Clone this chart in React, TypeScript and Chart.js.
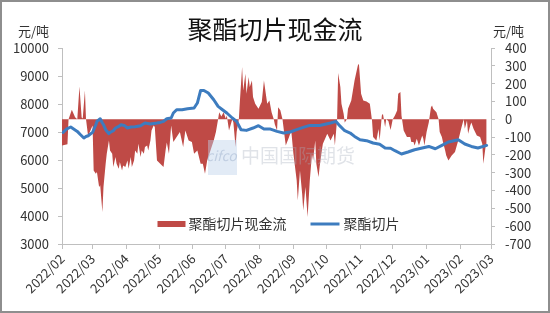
import React, { useEffect, useRef } from 'react';
import { Chart, registerables } from 'chart.js';

Chart.register(...registerables);

// Day offsets are counted from 2022-02-01
const START_DATE = '2022-02-01';
const monthTickDays = [0, 28, 59, 89, 120, 150, 181, 212, 242, 273, 303, 334, 365, 393];
const monthTickLabels = [
  '2022/02', '2022/03', '2022/04', '2022/05', '2022/06', '2022/07', '2022/08',
  '2022/09', '2022/10', '2022/11', '2022/12', '2023/01', '2023/02', '2023/03',
];

const cashFlowDays = [
  0, 5, 6, 9, 12, 14, 16, 18, 19, 21,
  22, 24, 25, 28, 29, 31, 32, 34, 35, 37,
  38, 40, 41, 43, 44, 46, 47, 49, 50, 52,
  53, 55, 56, 58, 60, 61, 63, 64, 66, 67,
  69, 70, 72, 73, 75, 76, 78, 79, 81, 82,
  84, 85, 87, 90, 93, 95, 96, 98, 100, 102,
  105, 108, 111, 113, 116, 119, 121, 124, 127, 129,
  131, 133, 136, 139, 141, 143, 144, 146, 148, 150,
  151, 153, 156, 157, 159, 160, 162, 163, 165, 166,
  168, 169, 171, 172, 174, 175, 177, 180, 183, 185,
  188, 190, 192, 194, 195, 197, 198, 200, 202, 204,
  205, 208, 210, 212, 215, 216, 218, 220, 221, 223,
  225, 227, 229, 230, 232, 233, 235, 236, 238, 239,
  243, 246, 249, 250, 252, 253, 255, 256, 258, 259,
  261, 262, 265, 268, 271, 272, 274, 276, 279, 282,
  284, 285, 288, 290, 291, 293, 294, 296, 297, 299,
  301, 303, 305, 307, 308, 310, 311, 313, 316, 319,
  320, 322, 323, 325, 327, 330, 331, 332, 334, 336,
  338, 339, 340, 343, 345, 346, 348, 349, 351, 352,
  354, 357, 360, 363, 366, 368, 369, 371, 372, 374,
  375, 377, 380, 383, 385, 386, 388, 389,
];
const cashFlowValues = [
  -147, -140, 0, 53, 12, 0, 184, 10, 5, 162,
  0, -100, -78, -35, -287, -306, -296, -380, -370, -520,
  -380, -250, -194, -119, -175, -194, -268, -212, -250, -278,
  -240, -287, -259, -268, -231, -278, -212, -268, -231, -175,
  -194, -137, -212, -175, -194, -156, -147, -175, -119, -63,
  -35, -44, -231, -250, -268, -170, -130, -194, -35, -128,
  -100, -72, -156, -63, -119, -128, -194, -175, -250, -250,
  -306, -231, -175, -119, -72, 0, 40, 15, 40, 5,
  21, -63, 0, -18, -156, -72, 0, 105, 293, 162,
  255, 143, 237, 181, 218, 125, 87, 59, 97, 218,
  87, 105, 40, 0, -30, -63, 68, 50, 0, -100,
  -147, -100, -63, -194, -343, -456, -287, -418, -512, -380,
  -549, -343, -194, -231, -119, -250, -324, -268, -175, -137,
  -81, -119, -81, -147, 0, 260, 181, 87, 31, -18,
  0, 59, 105, 218, 302, 311, 143, 105, 100, 87,
  -7, -100, -119, -55, -119, 21, 31, -44, 0, -10,
  -60, 0, 21, 49, 143, 153, 21, -63, -100, -100,
  -128, -128, -147, -109, -147, -91, -109, -147, -72, -18,
  68, 77, 59, 40, 0, -72, -100, -128, -175, -203,
  -231, -203, -184, -119, -45, 0, -53, -7, -81, -35,
  -18, -53, -91, -100, -137, -250, -156, -150,
];

const priceDays = [
  1, 4, 8, 11, 14, 17, 20, 22, 24, 28,
  31, 32, 35, 37, 38, 40, 43, 44, 47, 49,
  52, 54, 57, 60, 63, 67, 72, 76, 81, 87,
  90, 93, 96, 100, 102, 105, 110, 115, 121, 124,
  127, 130, 134, 139, 143, 147, 151, 156, 160, 164,
  169, 175, 180, 185, 191, 197, 203, 209, 215, 221,
  227, 236, 246, 251, 255, 259, 264, 268, 273, 279,
  285, 291, 296, 301, 305, 311, 317, 323, 330, 336,
  342, 348, 354, 363, 369, 375, 381, 389,
];
const priceValues = [
  6985, 7100, 7178, 7100, 7021, 6900, 6785, 6840, 6867, 6985,
  7260, 7378, 7474, 7321, 7260, 7082, 6940, 6980, 7046, 7142,
  7200, 7260, 7235, 7142, 7178, 7190, 7224, 7321, 7285, 7321,
  7342, 7378, 7474, 7500, 7678, 7796, 7796, 7830, 7857, 8035,
  8485, 8485, 8392, 8153, 7914, 7796, 7678, 7500, 7378, 7082,
  7058, 7142, 7224, 7105, 7105, 7021, 6964, 7000, 7082, 7164,
  7235, 7235, 7321, 7378, 7200, 7046, 6964, 6842, 6725, 6689,
  6607, 6560, 6428, 6420, 6332, 6214, 6285, 6367, 6428, 6485,
  6403, 6521, 6642, 6725, 6571, 6485, 6428, 6521,
];

const TITLE = '聚酯切片现金流';
const UNIT = '元/吨';
const SERIES_CASH = '聚酯切片现金流';
const SERIES_PRICE = '聚酯切片';
const WATERMARK = '中国国际期货';

const FONT = '"Noto Sans CJK SC", "Noto Sans", sans-serif';
const RED = '#BF4A46';
const BLUE = '#3D7CBF';
const AXIS = '#BFBFBF';
const TEXT = '#333333';

const decorPlugin = {
  id: 'decor',
  afterDatasetsDraw(chart: any) {
    const { ctx, chartArea } = chart;
    ctx.save();
    // faint watermark
    ctx.fillStyle = 'rgba(190,210,235,0.45)';
    ctx.fillRect(chartArea.left + 146, chartArea.top + 92, 29, 35);
    ctx.font = 'italic 14px ' + FONT;
    ctx.fillStyle = 'rgba(150,170,200,0.45)';
    ctx.textBaseline = 'middle';
    ctx.textAlign = 'left';
    ctx.fillText('cifco', chartArea.left + 144, chartArea.top + 108);
    ctx.font = '19px ' + FONT;
    ctx.fillStyle = 'rgba(165,175,190,0.35)';
    ctx.fillText(WATERMARK, chartArea.left + 179, chartArea.top + 108);

    // legend inside the plot area
    ctx.font = '14px ' + FONT;
    ctx.fillStyle = TEXT;
    const ds = chart.data.datasets;
    const t1 = ds[0].label;
    const t2 = ds[1].label;
    const w1 = ctx.measureText(t1).width;
    const w2 = ctx.measureText(t2).width;
    const total = 28 + 3 + w1 + 24 + 29 + 4 + w2;
    const cx = (chartArea.left + chartArea.right) / 2 + 2;
    const y = chartArea.bottom - 20;
    let x = cx - total / 2;
    ctx.fillStyle = ds[0].backgroundColor;
    ctx.fillRect(x, y - 3, 28, 6);
    x += 31;
    ctx.fillStyle = TEXT;
    ctx.fillText(t1, x, y);
    x += w1 + 24;
    ctx.strokeStyle = ds[1].borderColor;
    ctx.lineWidth = 3;
    ctx.beginPath();
    ctx.moveTo(x, y);
    ctx.lineTo(x + 29, y);
    ctx.stroke();
    x += 33;
    ctx.fillText(t2, x, y);
    ctx.restore();
  },
  afterDraw(chart: any) {
    const { ctx } = chart;
    ctx.save();
    ctx.font = '13px ' + FONT;
    ctx.fillStyle = TEXT;
    ctx.textBaseline = 'middle';
    ctx.textAlign = 'left';
    ctx.fillText(UNIT, 18, 31);
    ctx.fillText(UNIT, 493, 31);
    ctx.restore();
  },
};

export default function App() {
  const canvasRef = useRef<HTMLCanvasElement | null>(null);

  useEffect(() => {
    const canvas = canvasRef.current;
    if (!canvas) return;
    const cashData = cashFlowDays.map((d, i) => ({ x: d, y: cashFlowValues[i] }));
    const priceData = priceDays.map((d, i) => ({ x: d, y: priceValues[i] }));

    const chart = new Chart(canvas, {
      type: 'line',
      data: {
        datasets: [
          {
            label: SERIES_CASH,
            data: cashData,
            yAxisID: 'y1',
            fill: 'origin',
            backgroundColor: RED,
            borderColor: RED,
            borderWidth: 0,
            pointRadius: 0,
            tension: 0,
            order: 2,
          },
          {
            label: SERIES_PRICE,
            data: priceData,
            yAxisID: 'y',
            fill: false,
            borderColor: BLUE,
            backgroundColor: BLUE,
            borderWidth: 3,
            pointRadius: 0,
            tension: 0,
            borderJoinStyle: 'round',
            borderCapStyle: 'round',
            order: 1,
          },
        ],
      },
      options: {
        animation: false,
        responsive: true,
        maintainAspectRatio: false,
        events: [],
        layout: { padding: { left: 0, right: 0, top: 0, bottom: 0 } },
        plugins: {
          legend: { display: false },
          tooltip: { enabled: false },
          title: {
            display: true,
            text: TITLE,
            color: '#111111',
            font: { family: FONT, size: 25, weight: 'normal', lineHeight: 1.2 },
            padding: { top: 14, bottom: 4 },
          },
        },
        scales: {
          x: {
            type: 'linear',
            min: monthTickDays[0],
            max: monthTickDays[monthTickDays.length - 1],
            afterBuildTicks: (axis: any) => {
              axis.ticks = monthTickDays.map((v) => ({ value: v }));
            },
            afterFit: (axis: any) => {
              axis.height = 69;
            },
            grid: { drawOnChartArea: false, tickLength: 5, color: AXIS },
            border: { color: AXIS, width: 1 },
            ticks: {
              autoSkip: false,
              maxRotation: 45,
              minRotation: 45,
              padding: 2,
              color: TEXT,
              font: { family: FONT, size: 13 },
              callback: (_v: any, i: number) => monthTickLabels[i],
            },
          },
          y: {
            position: 'left',
            min: 3000,
            max: 10000,
            afterFit: (axis: any) => {
              axis.width = 62;
            },
            grid: { drawOnChartArea: false, tickLength: 4, color: AXIS },
            border: { color: AXIS, width: 1 },
            ticks: {
              stepSize: 1000,
              autoSkip: false,
              padding: 9,
              color: TEXT,
              font: { family: FONT, size: 13 },
              callback: (v: any) => String(v),
            },
          },
          y1: {
            position: 'right',
            min: -700,
            max: 400,
            afterFit: (axis: any) => {
              axis.width = 59;
            },
            grid: { drawOnChartArea: false, tickLength: 4, color: AXIS },
            border: { color: AXIS, width: 1 },
            ticks: {
              stepSize: 100,
              autoSkip: false,
              padding: 10,
              color: TEXT,
              font: { family: FONT, size: 13 },
              callback: (v: any) => String(v),
            },
          },
        },
      },
      plugins: [decorPlugin],
    } as any);

    return () => {
      chart.destroy();
    };
  }, []);

  return (
    <div
      style={{
        position: 'fixed',
        left: 0,
        top: 0,
        width: 550,
        height: 313,
        background: '#FFFFFF',
      }}
    >
      <canvas ref={canvasRef} />
      <div
        style={{
          position: 'absolute',
          left: 0,
          top: 0,
          right: 0,
          bottom: 0,
          border: '2px solid #8E8E8E',
          boxSizing: 'border-box',
          pointerEvents: 'none',
        }}
      />
    </div>
  );
}
